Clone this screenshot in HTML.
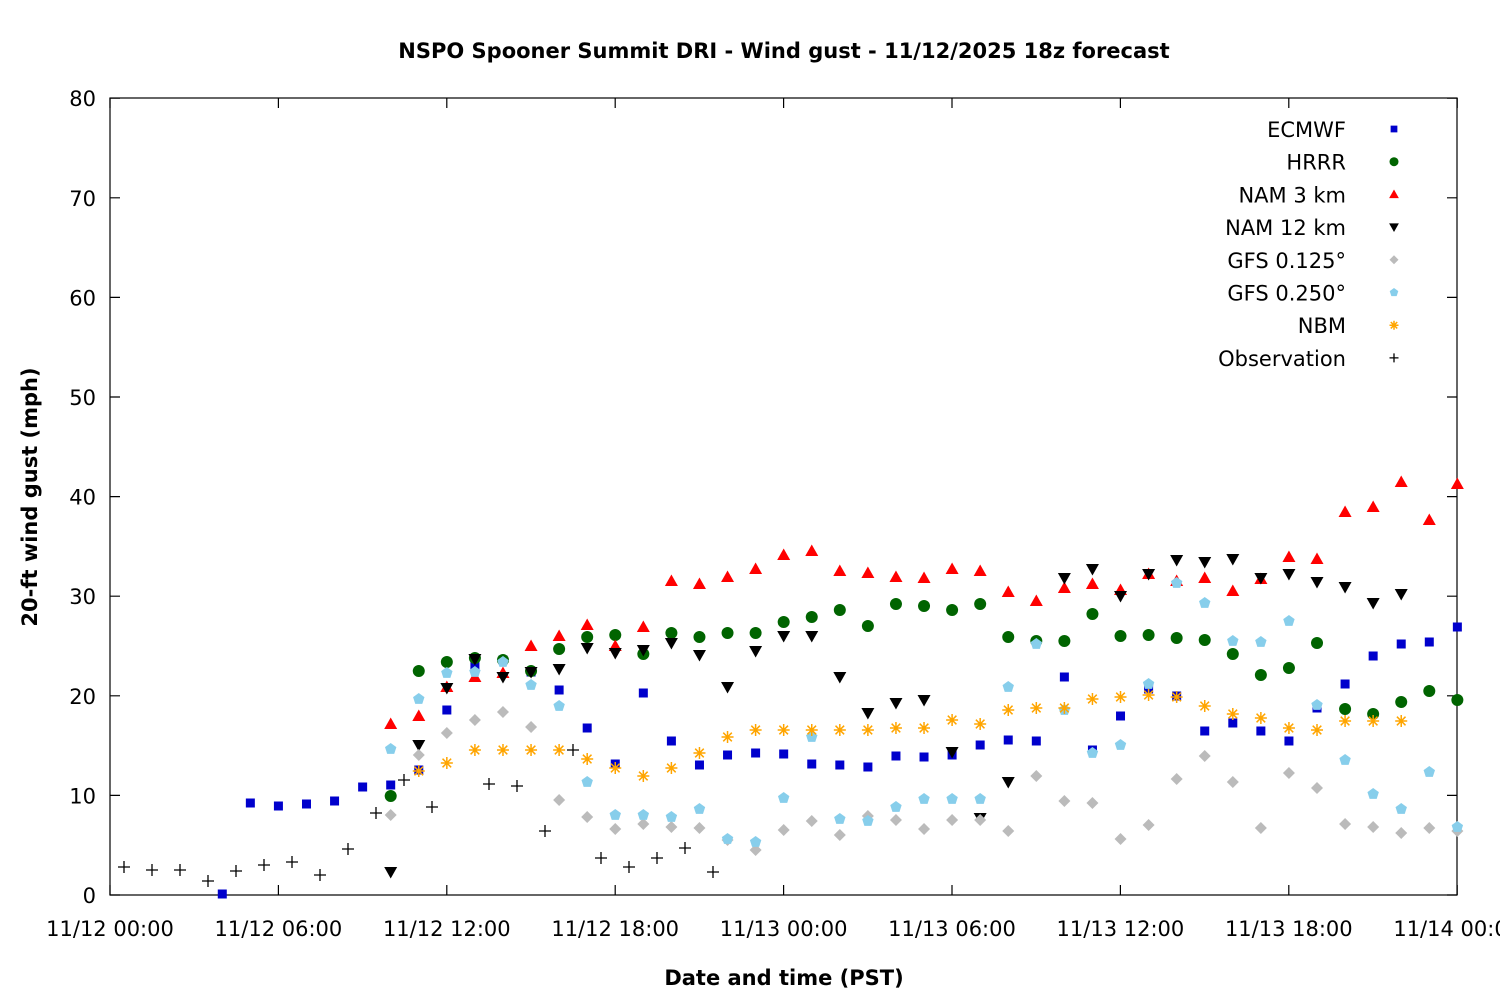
<!DOCTYPE html>
<html><head><meta charset="utf-8"><style>body{margin:0;background:#fff}svg{display:block}text{font-family:"DejaVu Sans","Liberation Sans",sans-serif}</style></head>
<body>
<svg id="s" width="1500" height="1000" xmlns="http://www.w3.org/2000/svg">
<rect width="1500" height="1000" fill="#fff"/>
<text x="784" y="58" text-anchor="middle" font-size="21" font-weight="bold">NSPO Spooner Summit DRI - Wind gust - 11/12/2025 18z forecast</text>
<text x="784" y="985" text-anchor="middle" font-size="21" font-weight="bold">Date and time (PST)</text>
<text transform="translate(37,497) rotate(-90)" text-anchor="middle" font-size="21" font-weight="bold">20-ft wind gust (mph)</text>
<g id="ax"></g><g id="pts"></g>
</svg>
<script>
const NS="http://www.w3.org/2000/svg",ax=document.getElementById('ax'),P=document.getElementById('pts');
function el(t,a,p,tx){const e=document.createElementNS(NS,t);for(const k in a)e.setAttribute(k,a[k]);if(tx!==undefined)e.textContent=tx;(p||P).appendChild(e);return e;}
el('rect',{x:110,y:98,width:1347,height:797,fill:'none',stroke:'#000','stroke-width':1.2},ax);
for(let i=0;i<=8;i++){const y=895-i*99.6;
 el('path',{d:`M110 ${y}h10M1457 ${y}h-10`,stroke:'#000','stroke-width':1.2},ax);
 el('text',{x:96,y:y+8,'text-anchor':'end','font-size':21},ax,String(i*10));}
const lab=['11/12 00:00','11/12 06:00','11/12 12:00','11/12 18:00','11/13 00:00','11/13 06:00','11/13 12:00','11/13 18:00','11/14 00:00'];
for(let i=0;i<=8;i++){const x=110+i*168.4;
 el('path',{d:`M${x} 895v-10M${x} 98v10`,stroke:'#000','stroke-width':1.2},ax);
 el('text',{x:x,y:936,'text-anchor':'middle','font-size':21},ax,lab[i]);}
const X=h=>110+28.07*h;
function mk(type,x,y,s){s=s||1;
 if(type==0)el('rect',{x:x-4.5*s,y:y-4.5*s,width:9*s,height:9*s,fill:'#0000cc'});
 else if(type==1)el('circle',{cx:x,cy:y,r:6*s,fill:'#006400'});
 else if(type==2)el('path',{d:`M${x} ${y-6.5*s}L${x+6.5*s} ${y+5*s}L${x-6.5*s} ${y+5*s}Z`,fill:'#f00'});
 else if(type==3)el('path',{d:`M${x} ${y+6.5*s}L${x+6.5*s} ${y-5*s}L${x-6.5*s} ${y-5*s}Z`,fill:'#000'});
 else if(type==4)el('path',{d:`M${x} ${y-6*s}L${x+6*s} ${y}L${x} ${y+6*s}L${x-6*s} ${y}Z`,fill:'#bbb'});
 else if(type==5){let d='';for(let i=0;i<5;i++){const a=-Math.PI/2+i*2*Math.PI/5;d+=(i?'L':'M')+(x+6*s*Math.cos(a))+' '+(y+6*s*Math.sin(a));}el('path',{d:d+'Z',fill:'#87ceeb'});}
 else if(type==6)el('path',{d:`M${x-6*s} ${y}h${12*s}M${x} ${y-6*s}v${12*s}M${x-4.3*s} ${y-4.3*s}l${8.6*s} ${8.6*s}M${x-4.3*s} ${y+4.3*s}l${8.6*s} ${-8.6*s}`,stroke:'#ffa500','stroke-width':1.5});
 else el('path',{d:`M${x-6*s} ${y}h${12*s}M${x} ${y-6*s}v${12*s}`,stroke:'#000','stroke-width':1.3});}
const D=[
 [4,[894,803,806,804,801,787,785,770,710,665,660,672,690,728,764,693,741,765,755,753,754,764,765,767,756,757,755,745,740,741,677,750,716,689,696,731,723,731,741,708,684,656,644,642,627]],
 [10,[796,671,662,658,660,671,649,637,635,654,633,637,633,633,622,617,610,626,604,606,610,604,637,641,641,614,636,635,638,640,654,675,668,643,709,714,702,691,700]],
 [10,[724,716,687,677,673,646,636,625,646,627,581,584,577,569,555,551,571,573,577,578,569,571,592,601,588,584,590,574,581,578,591,579,557,559,512,507,482,520,484]],
 [10,[872,745,688,659,677,672,669,648,653,650,643,655,687,651,636,636,677,713,703,700,752,818,782,null,578,569,596,574,560,562,559,578,574,582,587,603,594]],
 [10,[815,755,733,720,712,727,800,817,829,824,827,828,840,850,830,821,835,816,820,829,820,820,831,776,801,803,839,825,779,756,782,828,773,788,824,827,833,828,831]],
 [10,[749,699,673,672,662,685,706,782,815,815,817,809,839,842,798,737,819,821,807,799,799,799,687,644,710,753,745,684,583,603,641,642,621,705,760,794,809,772,827]],
 [11,[771,763,750,750,750,750,759,768,776,768,753,737,730,730,730,730,730,728,728,720,724,710,708,708,699,697,695,697,706,714,718,728,730,721,721,721]]];
D.forEach((d,t)=>d[1].forEach((y,i)=>{if(y!=null)mk(t,X(d[0]+i),y);}));
[[124,867],[152,870],[180,870],[208,881],[236,871],[264,865],[292,862],[320,875],[348,849],[376,813],[404,780],[432,807],[489,784],[517,786],[545,831],[573,750],[601,858],[629,867],[657,858],[685,848],[713,872]].forEach(p=>mk(7,p[0],p[1]));
const L=['ECMWF','HRRR','NAM 3 km','NAM 12 km','GFS 0.125°','GFS 0.250°','NBM','Observation'];
L.forEach((n,i)=>{const y=129+i*32.7;el('text',{x:1346,y:y+8,'text-anchor':'end','font-size':21},ax,n);mk(i,1394,y,0.75);});
</script>
</body></html>
